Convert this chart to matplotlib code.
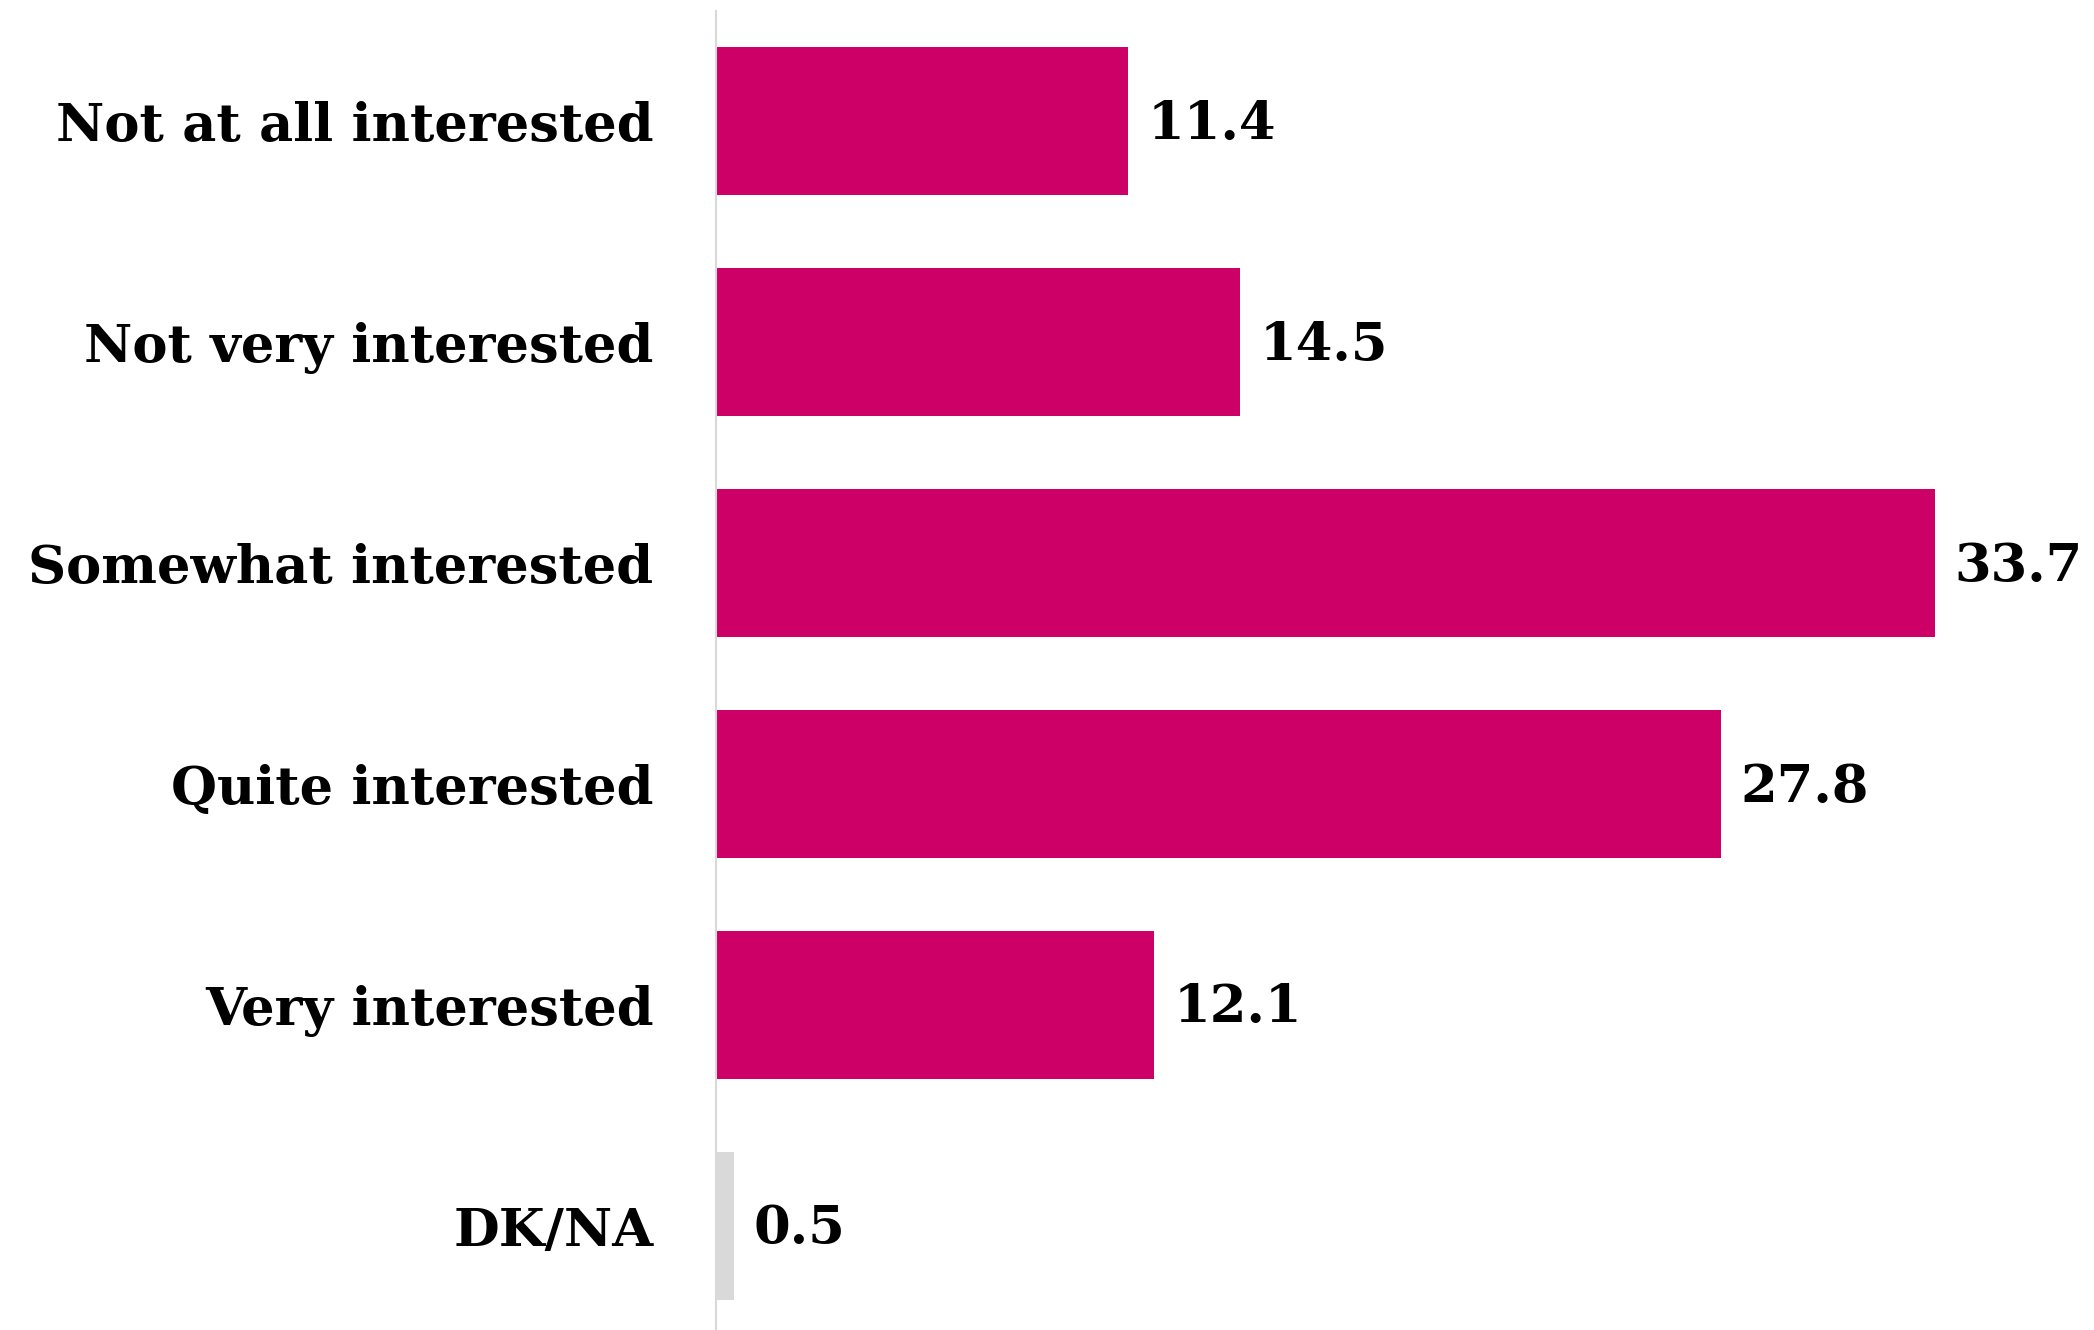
import matplotlib
matplotlib.use("Agg")
import matplotlib.pyplot as plt

categories = ["Not at all interested", "Not very interested", "Somewhat interested",
              "Quite interested", "Very interested", "DK/NA"]
values = [11.4, 14.5, 33.7, 27.8, 12.1, 0.5]
colors = ["#CC0066"] * 5 + ["#D9D9D9"]

plt.rcParams["font.family"] = ["DejaVu Serif"]
plt.rcParams["font.weight"] = "bold"

fig = plt.figure(figsize=(20.94, 13.30), dpi=100)
ax = fig.add_axes([716 / 2094, 0.0, 1 - 716 / 2094, 1 - 11 / 1330])

pos = list(range(len(categories)))
ax.barh(pos, values, height=0.67, color=colors)
ax.set_ylim(5.47, -0.5)
ax.set_xlim(0, 38.1)

FS = 38
for p, v in zip(pos, values):
    ax.annotate(f"{v}", xy=(v, p), xytext=(14, -2), textcoords="offset points",
                va="center", ha="left", fontsize=FS, fontweight="bold", color="black")

ax.set_yticks(pos)
ax.set_yticklabels(categories, fontsize=FS, fontweight="bold")
ax.tick_params(axis="y", length=0, pad=45)
ax.set_xticks([])
for s in ["top", "right", "bottom"]:
    ax.spines[s].set_visible(False)
ax.spines["left"].set_color("#D9D9D9")
ax.spines["left"].set_linewidth(1.5)

fig.savefig("out.png", dpi=100)
